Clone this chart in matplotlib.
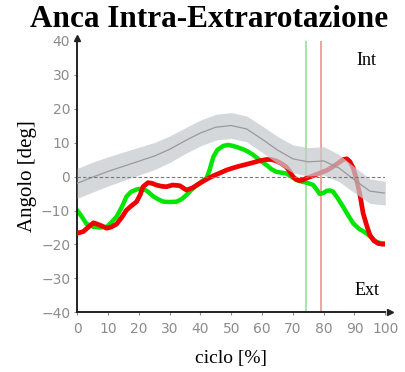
import numpy as np
import matplotlib as mpl
mpl.use('Agg')
import matplotlib.pyplot as plt

# normal band (mean +- sd)
norm_x = [0, 5, 10, 15, 20, 25, 30, 35, 40, 45, 50, 55, 60, 65, 70, 75, 80, 85, 90, 95, 100]
norm_mean = [-2.0, -0.2, 1.5, 3.0, 4.5, 6.0, 8.0, 10.5, 12.8, 14.5, 15.0, 14.0, 11.0, 7.8, 5.2, 4.3, 4.6, 2.5, -1.0, -4.3, -4.9]
norm_sd = [4.4, 4.4, 4.3, 4.2, 4.1, 4.0, 3.9, 3.8, 3.8, 3.8, 3.8, 3.8, 3.9, 4.0, 4.1, 4.2, 4.2, 4.0, 3.8, 3.6, 3.5]

green_x = [0, 1.5, 3, 5.3, 7.5, 9.6, 11, 12.8, 14.5, 16, 17.5, 19.3, 21.4, 23, 24.8, 26.5, 28, 30, 32.3, 34, 35.5,
           37, 38.8, 40.5, 42, 43, 44.2, 45.5, 47.4, 49, 50.6, 52, 53.9, 55.5, 57.1, 59, 61.4, 63, 64.6, 66.5,
           67.9, 69.5, 71.1, 72.8, 74.4, 75.5, 76.6, 77.7, 78.7, 80, 81, 82, 83, 84.5, 86.3, 88, 89.6, 91.5,
           93.9, 95.5, 97.1, 98.5, 100]
green_y = [-9.9, -11.8, -13.9, -14.8, -15.0, -14.8, -13.6, -11.8, -9.0, -5.9, -4.5, -3.8, -3.5, -4.5, -5.9, -6.8, -7.4,
           -7.5, -7.4, -6.6, -5.4, -4.0, -2.5, -1.4, -0.5, 2.0, 5.8, 7.8, 9.0, 9.3, 9.0, 8.6, 8.0, 7.3, 6.4, 5.0,
           3.4, 2.2, 1.4, 1.1, 0.9, 0.0, -1.0, -1.5, -1.8, -2.1, -2.5, -3.8, -5.1, -4.8, -4.2, -4.1, -4.4, -6.3,
           -8.9, -11.5, -13.8, -15.4, -16.7, -18.0, -19.2, -19.6, -19.7]

red_x = [0, 2, 3.5, 5.3, 7.4, 9.6, 11, 12.8, 14.5, 16, 17.5, 19.3, 20.5, 21.4, 23, 24.3, 25.7, 27.5, 29, 31, 33.3,
         35.5, 37.5, 39.8, 42, 44.2, 46.5, 48.5, 50.5, 52.8, 55, 57.1, 59, 61.4, 63, 64.6, 66.3, 67.9, 69,
         70, 71, 72.1, 73.3, 74.4, 76.5, 78.7, 81, 83, 84.8, 86.3, 87.5, 88.5, 89.6, 90.7, 91.8, 92.8, 94, 95,
         96.3, 97.7, 99, 100]
red_y = [-16.7, -16.2, -15.0, -13.6, -14.3, -15.2, -14.9, -14.0, -12.0, -9.9, -8.7, -7.4, -5.3, -3.0, -1.8, -2.0, -2.5,
         -2.9, -3.0, -2.5, -2.7, -4.0, -3.3, -2.0, -0.8, 0.2, 1.1, 1.9, 2.5, 3.1, 3.6, 4.1, 4.6, 5.0, 5.0, 4.6,
         3.8, 2.8, 1.5, 0.0, -0.8, -1.2, -1.0, -0.5, 0.2, 1.0, 1.8, 2.9, 4.0, 5.0, 5.2, 4.4, 2.5, -1.0, -5.5,
         -10.8, -14.5, -17.2, -18.9, -19.7, -19.9, -19.9]

# toe-off markers
green_event = 74.4
red_event = 79.2

x_ticks = list(range(0, 101, 10))
y_ticks = list(range(-40, 41, 10))

serif = ['Liberation Serif', 'DejaVu Serif']

fig = plt.figure(figsize=(4.06, 3.72), dpi=100)
ax = fig.add_axes([0.19, 0.16, 0.759, 0.731])

nm = np.array(norm_mean)
ns = np.array(norm_sd)

ax.plot(green_x, green_y, color='#00e600', lw=3.2, solid_capstyle='round', zorder=2)
ax.plot(red_x, red_y, color='#f00000', lw=3.4, solid_capstyle='round', zorder=3)

# the normal band sits on top of the curves, semi transparent
ax.fill_between(norm_x, nm - ns, nm + ns, color='#c6c9ce', alpha=0.72, lw=0, zorder=4)
ax.plot(norm_x, nm, color='#999999', lw=0.9, zorder=5)

ax.axhline(0, color='#777777', lw=0.8, ls=(0, (3, 2)), zorder=5)
ax.axvline(green_event, color='#8ee88e', lw=1.2, zorder=1)
ax.axvline(red_event, color='#f09090', lw=1.2, zorder=1)

ax.set_xlim(0, 100)
ax.set_ylim(-40, 40)
ax.set_xticks(x_ticks)
ax.set_yticks(y_ticks)
ax.tick_params(colors='#8c8c8c', labelsize=10, length=2, width=0.8, pad=3)
ax.tick_params(axis='x', pad=5)
for s in ['top', 'right']:
   ax.spines[s].set_visible(False)
for s in ['left', 'bottom']:
   ax.spines[s].set_color('#222222')
   ax.spines[s].set_linewidth(1.4)
# arrow heads on the axes
ax.plot(1.015, 0, '>', color='#222222', ms=4, transform=ax.transAxes, clip_on=False)
ax.plot(0, 1.01, '^', color='#222222', ms=4, transform=ax.transAxes, clip_on=False)

ax.text(97, 36.5, 'Int', ha='right', va='top', fontsize=13, family=serif)
ax.text(98, -36, 'Ext', ha='right', va='bottom', fontsize=13, family=serif)

ax.set_xlabel('ciclo [%]', fontsize=14, family=serif, labelpad=10)
ax.set_ylabel('Angolo [deg]', fontsize=15, family=serif, labelpad=3)
fig.text(0.515, 0.948, 'Anca Intra-Extrarotazione', ha='center', va='center',
         fontsize=22.5, fontweight='bold', family=serif)

fig.savefig('out.png', dpi=100)
